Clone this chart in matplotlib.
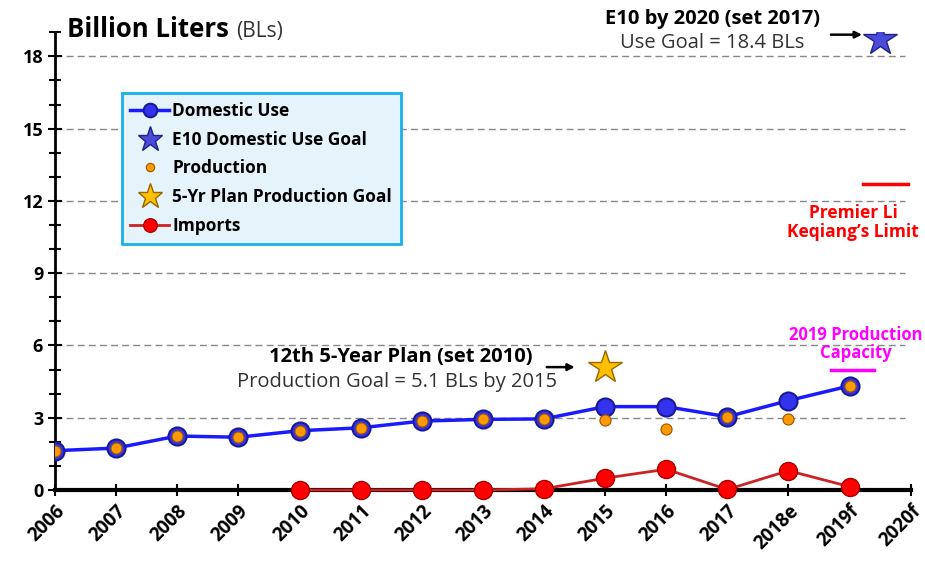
import numpy as np
import matplotlib
matplotlib.use("Agg")
from matplotlib import pyplot as plt
from matplotlib.ticker import MultipleLocator

# chart data
years = ["2006", "2007", "2008", "2009", "2010", "2011", "2012", "2013",
         "2014", "2015", "2016", "2017", "2018e", "2019f", "2020f"]
domestic_use = [1.63, 1.74, 2.24, 2.19, 2.46, 2.58, 2.86, 2.93, 2.95,
                3.46, 3.46, 3.04, 3.71, 4.32]
production = [1.63, 1.74, 2.24, 2.19, 2.46, 2.58, 2.86, 2.93, 2.95,
              2.90, 2.52, 3.04, 2.93, 4.32]
import_years = ["2010", "2011", "2012", "2013", "2014", "2015", "2016",
                "2017", "2018e", "2019f"]
imports = [0.0, 0.0, 0.0, 0.0, 0.05, 0.49, 0.86, 0.02, 0.80, 0.14]
e10_goal = 18.7
plan_goal = 5.1
li_limit = 12.7
capacity_2019 = 5.0

plt.rcParams['font.family'] = ['Open Sans', 'DejaVu Sans']

fig = plt.figure(figsize=(9.25, 5.63), dpi=100)
ax = fig.add_axes([0.0595, 0.1297, 0.925, 0.813])

x = np.arange(len(years))
xi = [years.index(y) for y in import_years]

# grid lines
for g in range(3, 19, 3):
    ax.plot([0, 13.9], [g, g], color="#888888", lw=1, ls=(0, (5, 3)), zorder=1)

ax.plot(x[:len(domestic_use)], domestic_use, color="#1a1aff", lw=2.5, marker="o",
        ms=13, mfc="#3333ee", mec="#1a1a99", mew=1.5, zorder=3, label="Domestic Use")
ax.plot(13.5, e10_goal, ls="none", marker="*", ms=25, mfc="#4a4adb", mec="#222288",
        mew=1, zorder=4, label="E10 Domestic Use Goal")
ax.plot(x[:len(production)], production, ls="none", marker="o", ms=8,
        mfc="#ff9900", mec="#995500", mew=0.8, zorder=5, label="Production")
ax.plot(9, plan_goal, ls="none", marker="*", ms=25, mfc="#ffc000", mec="#996600",
        mew=1, zorder=4, label="5-Yr Plan Production Goal")
ax.plot(xi, imports, color="#cc2222", lw=2, marker="o", ms=13, mfc="#ff0000",
        mec="#aa0000", mew=1, zorder=3, label="Imports", clip_on=False)

# limit lines
ax.plot([13.22, 13.95], [li_limit, li_limit], color="#ff0000", lw=2.5, zorder=3)
ax.plot([12.7, 13.4], [capacity_2019, capacity_2019], color="#ff00ff", lw=2.5, zorder=3)

ax.set_xlim(0, 14)
ax.set_ylim(0, 19)
ax.set_xticks(x)
ax.set_xticklabels(years, rotation=45, ha="right", rotation_mode="anchor",
                   fontsize=13.5, fontweight="bold")
ax.set_yticks(range(0, 19, 3))
ax.set_yticklabels([str(v) for v in range(0, 19, 3)], fontsize=13, fontweight="bold")
ax.yaxis.set_minor_locator(MultipleLocator(1))
ax.tick_params(axis="y", which="major", direction="inout", length=10, width=1.5)
ax.tick_params(axis="y", which="minor", direction="inout", length=8, width=1.5)
ax.tick_params(axis="x", direction="inout", length=8, width=1.5, pad=4)
ax.spines["top"].set_visible(False)
ax.spines["right"].set_visible(False)
ax.spines["left"].set_linewidth(2)
ax.spines["bottom"].set_linewidth(3)

# titles and notes
t = ax.text(0.2, 19.1, "Billion Liters", fontsize=18.5, fontweight="bold", va="center")
ax.annotate("(BLs)", xy=(1, 0.5), xycoords=t, xytext=(5, -1), textcoords="offset points",
            fontsize=15, color="#333333", va="center")

ax.text(10.75, 19.55, "E10 by 2020 (set 2017)", fontsize=14.5, fontweight="bold",
        ha="center", va="center")
ax.text(10.75, 18.55, "Use Goal = 18.4 BLs", fontsize=14.5, color="#333333",
        ha="center", va="center")
ax.annotate("", xy=(13.25, 18.9), xytext=(12.65, 18.9),
            arrowprops=dict(arrowstyle="-|>", color="black", lw=1.8))

ax.text(5.65, 5.5, "12th 5-Year Plan (set 2010)", fontsize=14.5, fontweight="bold",
        ha="center", va="center")
ax.text(5.6, 4.5, "Production Goal = 5.1 BLs by 2015", fontsize=14.5, color="#333333",
        ha="center", va="center")
ax.annotate("", xy=(8.55, 5.1), xytext=(8.0, 5.1),
            arrowprops=dict(arrowstyle="-|>", color="black", lw=1.8))

ax.text(13.06, 11.1, "Premier Li\nKeqiang\u2019s Limit", fontsize=12.5, fontweight="bold",
        color="#ff0000", ha="center", va="center", linespacing=1.05, clip_on=False)
ax.text(13.1, 6.05, "2019 Production\nCapacity", fontsize=12, fontweight="bold",
        color="#ff00ff", ha="center", va="center", linespacing=1.0, clip_on=False)

leg = ax.legend(loc="upper left", bbox_to_anchor=(0.078, 0.867), borderaxespad=0,
                prop={"weight": "bold", "size": 12.5}, frameon=True, fancybox=False,
                handlelength=2.2, handletextpad=0.2, borderpad=0.5,
                labelspacing=0.62, markerscale=0.75)
leg.get_frame().set_facecolor("#e4f4fa")
leg.get_frame().set_edgecolor("#1ab0e8")
leg.get_frame().set_linewidth(2)
leg.get_frame().set_alpha(1)

fig.savefig("out.png", dpi=100)
